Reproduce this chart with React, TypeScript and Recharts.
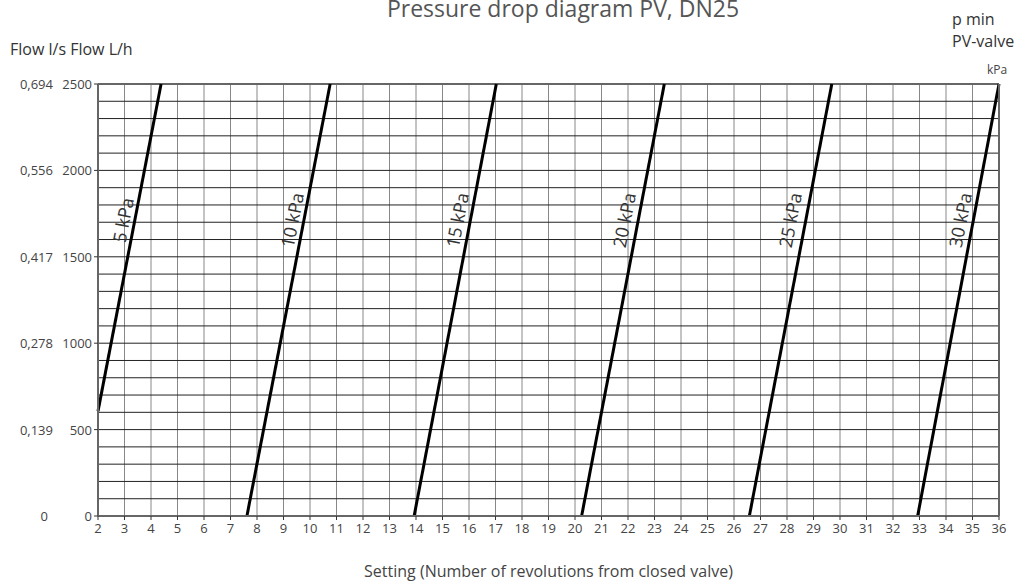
import {
  LineChart,
  Line,
  XAxis,
  YAxis,
  CartesianGrid,
  ReferenceLine,
  ReferenceDot,
} from "recharts";

// flow ticks (L/h) with matching l/s and kPa labels
const flowTicks = [0, 500, 1000, 1500, 2000, 2500];
const flowLs = ["0", "0,139", "0,278", "0,417", "0,556", "0,694"];
const pMinKpa = ["0,0", "0,3", "1,1", "2,5", "4,4", "6,9"];

const settingTicks = Array.from({ length: 35 }, (_, i) => i + 2);
const gridFlowTicks = Array.from({ length: 26 }, (_, i) => i * 100);

// each pressure line: [setting, flow L/h] at its two ends
const line5 = [
  { x: 2, y: 607 },
  { x: 4.38, y: 2500 },
];
const line10 = [
  { x: 7.62, y: 0 },
  { x: 10.76, y: 2500 },
];
const line15 = [
  { x: 13.93, y: 0 },
  { x: 17.03, y: 2500 },
];
const line20 = [
  { x: 20.25, y: 0 },
  { x: 23.37, y: 2500 },
];
const line25 = [
  { x: 26.58, y: 0 },
  { x: 29.69, y: 2500 },
];
const line30 = [
  { x: 32.93, y: 0 },
  { x: 36, y: 2500 },
];

const lines = [line5, line10, line15, line20, line25, line30];
const lineLabels = ["5 kPa", "10 kPa", "15 kPa", "20 kPa", "25 kPa", "30 kPa"];
const labelX = [2.94, 9.32, 15.55, 21.85, 28.11, 34.53];
const labelY = [1713, 1713, 1713, 1713, 1713, 1713];

const FONT = "'Open Sans', 'Noto Sans', sans-serif";
const TEXT = "#444";
const AXIS = "#666";

function LeftTick(props: any) {
  const { y, payload } = props;
  const i = flowTicks.indexOf(payload.value);
  if (i < 0) return <g />;
  return (
    <g>
      <line x1={94} x2={98} y1={y} y2={y} stroke="#333" />
      <text x={92} y={y} dy={5} textAnchor="end" fontSize={13} fill={TEXT} fontFamily={FONT}>
        {payload.value}
      </text>
      <text x={i === 0 ? 48 : 53} y={y} dy={5} textAnchor="end" fontSize={13} fill={TEXT} fontFamily={FONT}>
        {flowLs[i]}
      </text>
    </g>
  );
}

function PressureLabel(text: string) {
  return (p: any) => (
    <text
      x={p.cx}
      y={p.cy}
      transform={`rotate(-79, ${p.cx}, ${p.cy})`}
      textAnchor="middle"
      dominantBaseline="central"
      fontSize={18}
      fill="#333"
      fontFamily={FONT}
    >
      {text}
    </text>
  );
}

export default function App() {
  return (
    <div style={{ position: "absolute", left: 0, top: 0, width: 1025, height: 583, background: "#fff", overflow: "hidden" }}>
      <LineChart
        width={1025}
        height={583}
        margin={{ top: 84, right: 0, bottom: 0, left: 0 }}
      >
        <XAxis
          dataKey="x"
          type="number"
          domain={[2, 36]}
          ticks={settingTicks}
          interval={0}
          allowDuplicatedCategory={false}
          height={67}
          axisLine={{ stroke: AXIS, strokeWidth: 2 }}
          tickLine={{ stroke: "#333" }}
          tickSize={4}
          tickMargin={4}
          tick={{ fontSize: 13, fill: TEXT, fontFamily: FONT }}
          label={{
            value: "Setting (Number of revolutions from closed valve)",
            position: "insideBottom",
            offset: 6,
            fontSize: 16,
            fill: TEXT,
            fontFamily: FONT,
          }}
        />
        <YAxis
          yAxisId="left"
          type="number"
          domain={[0, 2500]}
          ticks={gridFlowTicks}
          interval={0}
          width={98}
          axisLine={{ stroke: AXIS, strokeWidth: 2 }}
          tickLine={false}
          tick={<LeftTick />}
        />
        <YAxis
          yAxisId="right"
          orientation="right"
          type="number"
          domain={[0, 2500]}
          ticks={flowTicks}
          width={26}
          axisLine={{ stroke: AXIS, strokeWidth: 2 }}
          tickLine={false}
          tickMargin={4}
          tickFormatter={(v: number) => pMinKpa[flowTicks.indexOf(v)]}
          tick={{ fontSize: 14, fill: TEXT, fontFamily: FONT }}
        />
        <CartesianGrid
          yAxisId="left"
          horizontal={false}
          stroke="#888"
          strokeWidth={1}
        />
        <CartesianGrid
          yAxisId="left"
          vertical={false}
          stroke="#222"
          strokeWidth={1}
        />
        <ReferenceLine yAxisId="left" y={2500} stroke={AXIS} strokeWidth={2} />
        {lines.map((d, i) => (
          <Line
            key={i}
            yAxisId="left"
            data={d}
            dataKey="y"
            stroke="#000"
            strokeWidth={3}
            dot={false}
            activeDot={false}
            isAnimationActive={false}
          />
        ))}
        {lineLabels.map((t, i) => (
          <ReferenceDot
            key={t}
            yAxisId="left"
            x={labelX[i]}
            y={labelY[i]}
            r={0}
            shape={PressureLabel(t)}
          />
        ))}
      </LineChart>
      <div
        style={{
          position: "absolute",
          left: 563,
          top: -8,
          transform: "translateX(-50%)",
          whiteSpace: "nowrap",
          fontFamily: FONT,
          fontSize: 23,
          color: "#555",
        }}
      >
        Pressure drop diagram PV, DN25
      </div>
      <div style={{ position: "absolute", left: 10, top: 38, fontFamily: FONT, fontSize: 16, color: "#333" }}>
        Flow l/s Flow L/h
      </div>
      <div
        style={{
          position: "absolute",
          left: 952,
          top: 8,
          fontFamily: FONT,
          fontSize: 16,
          lineHeight: "22px",
          color: "#333",
        }}
      >
        p min
        <br />
        PV-valve
      </div>
      <div style={{ position: "absolute", left: 987, top: 61, fontFamily: FONT, fontSize: 12, color: TEXT }}>
        kPa
      </div>
    </div>
  );
}
